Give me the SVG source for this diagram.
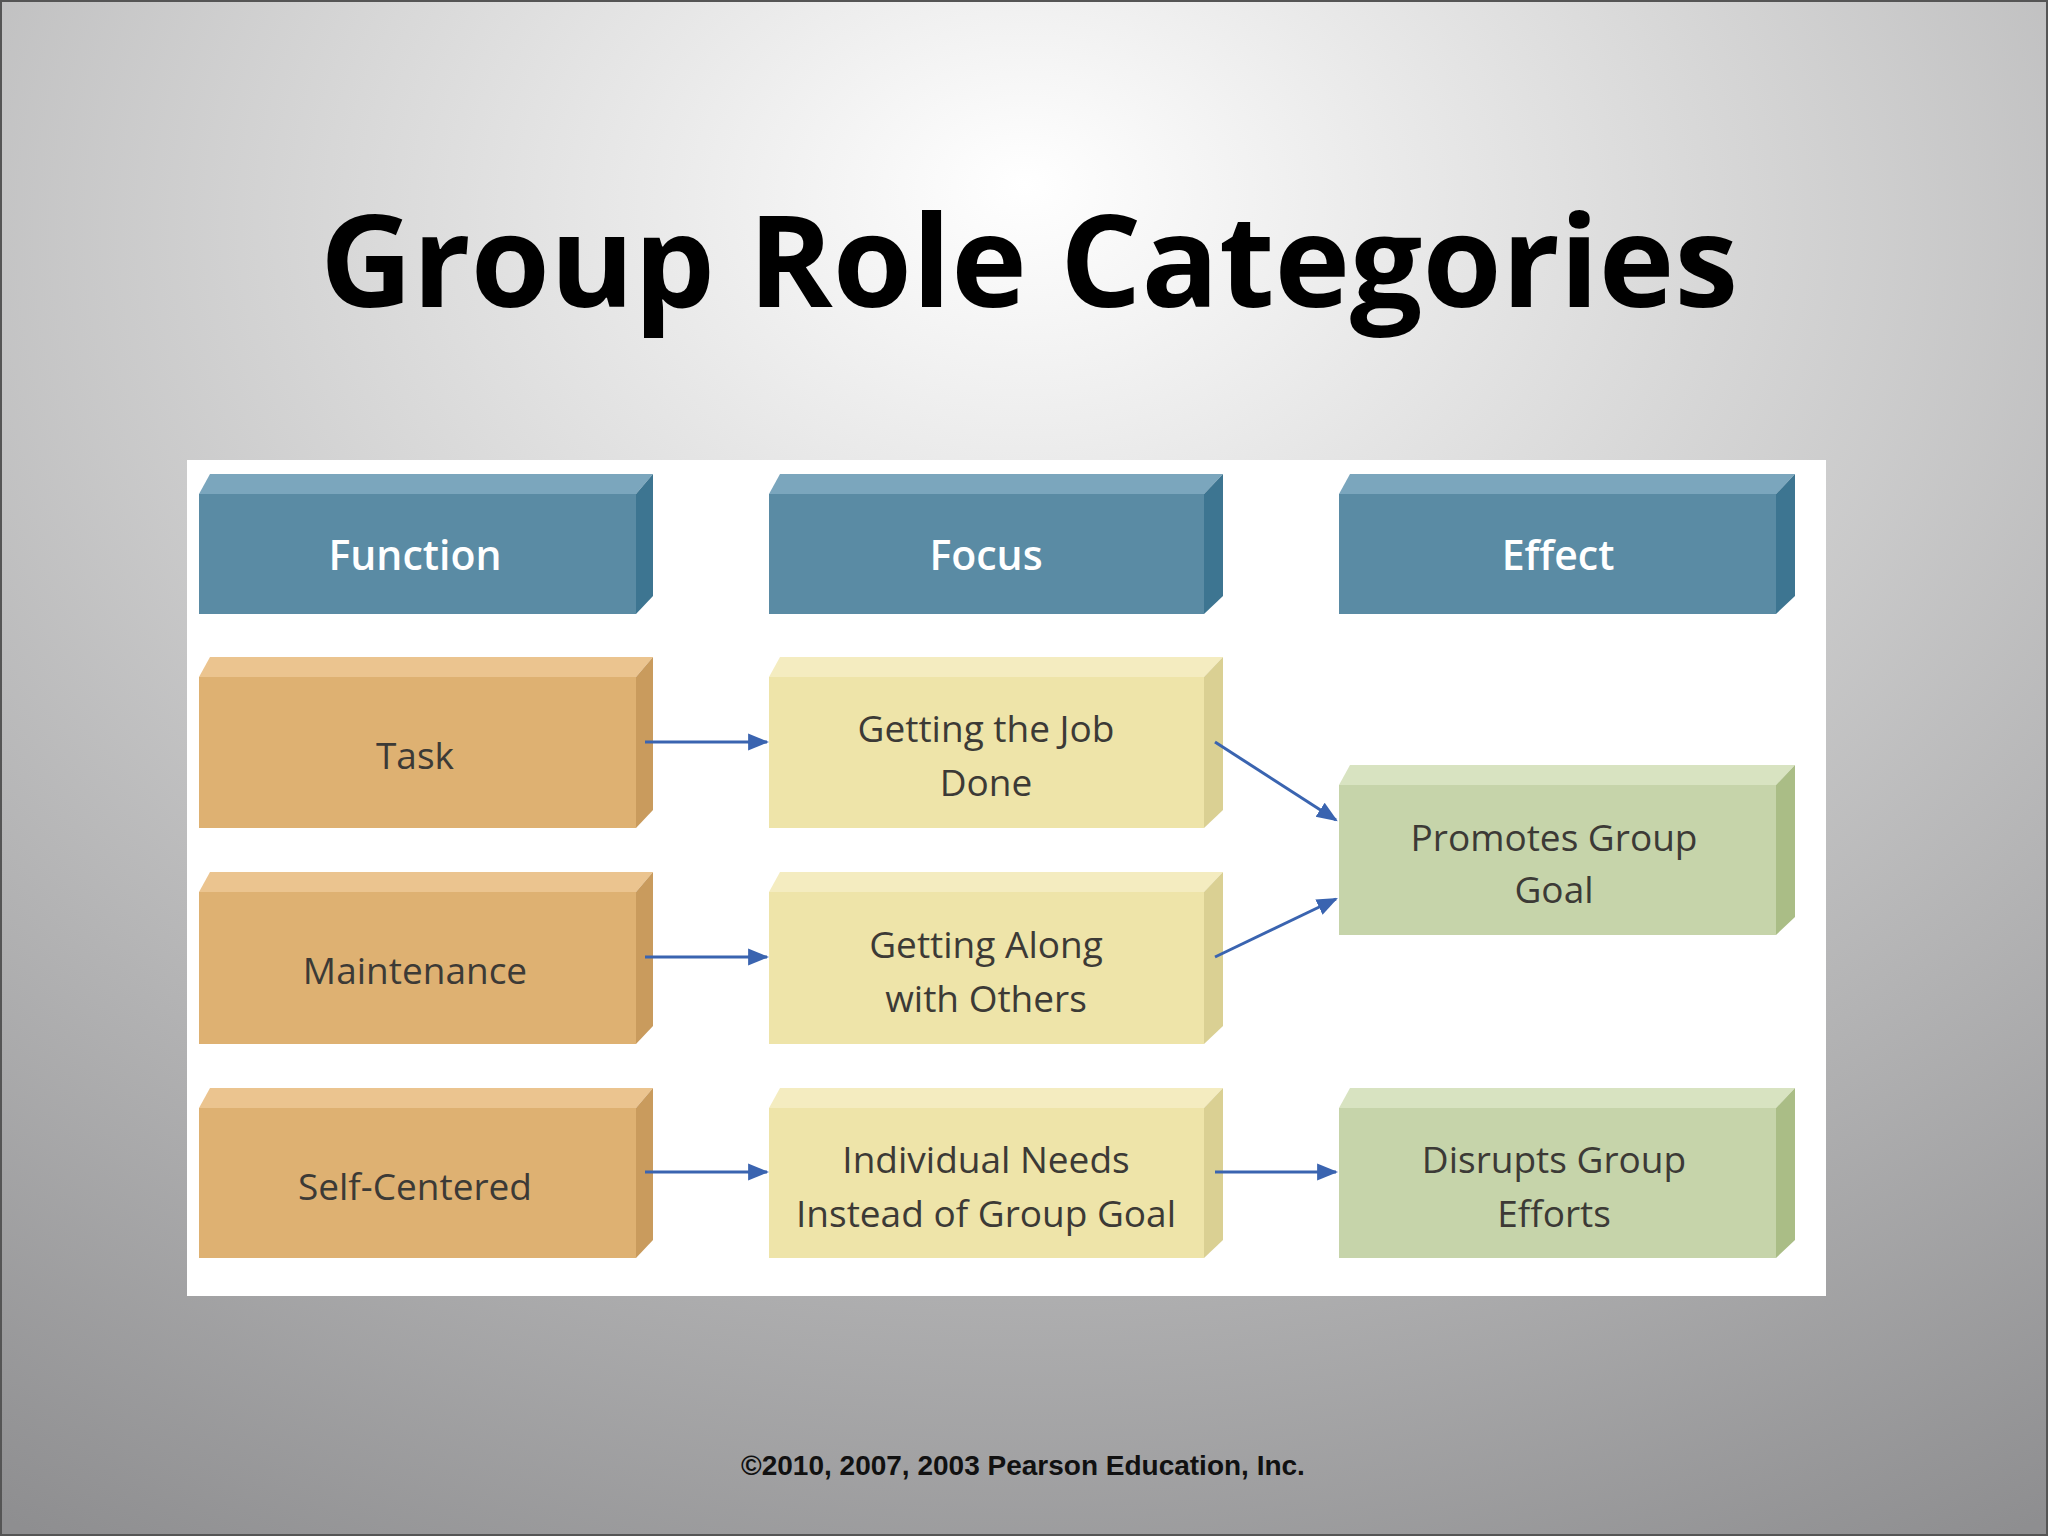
<svg xmlns="http://www.w3.org/2000/svg" width="2048" height="1536" viewBox="0 0 2048 1536">
<defs>
<radialGradient id="bg" cx="0.5" cy="0.18" r="0.95" fx="0.5" fy="0.12">
<stop offset="0" stop-color="#ffffff"/><stop offset="0.35" stop-color="#d8d8d8"/><stop offset="1" stop-color="#8e8e90"/>
</radialGradient>
<marker id="ah" viewBox="0 0 10 10" refX="9" refY="5" markerWidth="7" markerHeight="7" orient="auto" markerUnits="strokeWidth"><path d="M0,1 L10,5 L0,9 z" fill="#3a64b0"/></marker>
</defs>
<style>
.t{font-family:"Open Sans","Liberation Sans",sans-serif;font-size:37px;fill:#3c3a36;text-anchor:middle;dominant-baseline:central}
.h{font-family:"Open Sans","Liberation Sans",sans-serif;font-size:41px;font-weight:600;fill:#ffffff;text-anchor:middle;dominant-baseline:central}
.c line{stroke:#3a64b0;stroke-width:3;marker-end:url(#ah)}
.hf{fill:#5a8ba4}.ht{fill:#7ba6bd}.hr{fill:#3d7591}
.of{fill:#deb172}.ot{fill:#ebc48f}.or{fill:#c99b5d}
.yf{fill:#eee4a9}.yt{fill:#f4ecc0}.yr{fill:#dad093}
.gf{fill:#c6d4aa}.gt{fill:#d8e3c1}.gr{fill:#aabd86}
</style>
<rect width="2048" height="1536" fill="url(#bg)"/>
<rect x="1" y="1" width="2046" height="1534" fill="none" stroke="#555" stroke-width="2"/>
<text x="1029" y="307" font-family="Open Sans, Liberation Sans, sans-serif" font-weight="bold" font-size="128" text-anchor="middle" fill="#000">Group Role Categories</text>
<rect x="187" y="460" width="1639" height="836" fill="#ffffff"/>

<g id="h1"><polygon class="ht" points="199,494 210,474 653,474 636,494"/><polygon class="hr" points="636,494 653,474 653,596 636,614"/><rect class="hf" x="199" y="494" width="437" height="120"/><text class="h" x="415" y="554">Function</text></g>
<g id="h2"><polygon class="ht" points="769,494 780,474 1223,474 1204,494"/><polygon class="hr" points="1204,494 1223,474 1223,596 1204,614"/><rect class="hf" x="769" y="494" width="435" height="120"/><text class="h" x="986" y="554">Focus</text></g>
<g id="h3"><polygon class="ht" points="1339,494 1350,474 1795,474 1776,494"/><polygon class="hr" points="1776,494 1795,474 1795,596 1776,614"/><rect class="hf" x="1339" y="494" width="437" height="120"/><text class="h" x="1558" y="554">Effect</text></g>

<g id="task"><polygon class="ot" points="199,677 210,657 653,657 636,677"/><polygon class="or" points="636,677 653,657 653,810 636,828"/><rect class="of" x="199" y="677" width="437" height="151"/><text class="t" x="415" y="754">Task</text></g>
<g id="maint"><polygon class="ot" points="199,892 210,872 653,872 636,892"/><polygon class="or" points="636,892 653,872 653,1026 636,1044"/><rect class="of" x="199" y="892" width="437" height="152"/><text class="t" x="415" y="969">Maintenance</text></g>
<g id="self"><polygon class="ot" points="199,1108 210,1088 653,1088 636,1108"/><polygon class="or" points="636,1108 653,1088 653,1240 636,1258"/><rect class="of" x="199" y="1108" width="437" height="150"/><text class="t" x="415" y="1185">Self-Centered</text></g>

<g id="job"><polygon class="yt" points="769,677 780,657 1223,657 1204,677"/><polygon class="yr" points="1204,677 1223,657 1223,810 1204,828"/><rect class="yf" x="769" y="677" width="435" height="151"/><text class="t" x="986" y="727">Getting the Job</text><text class="t" x="986" y="781">Done</text></g>
<g id="along"><polygon class="yt" points="769,892 780,872 1223,872 1204,892"/><polygon class="yr" points="1204,892 1223,872 1223,1026 1204,1044"/><rect class="yf" x="769" y="892" width="435" height="152"/><text class="t" x="986" y="943">Getting Along</text><text class="t" x="986" y="997">with Others</text></g>
<g id="indiv"><polygon class="yt" points="769,1108 780,1088 1223,1088 1204,1108"/><polygon class="yr" points="1204,1108 1223,1088 1223,1240 1204,1258"/><rect class="yf" x="769" y="1108" width="435" height="150"/><text class="t" x="986" y="1158">Individual Needs</text><text class="t" x="986" y="1212">Instead of Group Goal</text></g>

<g id="promotes"><polygon class="gt" points="1339,785 1350,765 1795,765 1776,785"/><polygon class="gr" points="1776,785 1795,765 1795,917 1776,935"/><rect class="gf" x="1339" y="785" width="437" height="150"/><text class="t" x="1554" y="836">Promotes Group</text><text class="t" x="1554" y="888">Goal</text></g>
<g id="disrupts"><polygon class="gt" points="1339,1108 1350,1088 1795,1088 1776,1108"/><polygon class="gr" points="1776,1108 1795,1088 1795,1240 1776,1258"/><rect class="gf" x="1339" y="1108" width="437" height="150"/><text class="t" x="1554" y="1158">Disrupts Group</text><text class="t" x="1554" y="1212">Efforts</text></g>

<g id="connectors" class="c">
<line x1="645" y1="742" x2="767" y2="742"/>
<line x1="645" y1="957" x2="767" y2="957"/>
<line x1="645" y1="1172" x2="767" y2="1172"/>
<line x1="1215" y1="1172" x2="1336" y2="1172"/>
<line x1="1215" y1="742" x2="1336" y2="820"/>
<line x1="1215" y1="957" x2="1336" y2="899"/>
</g>
<text x="1023" y="1465" font-family="Liberation Sans, Arial, sans-serif" font-weight="bold" font-size="28" text-anchor="middle" dominant-baseline="central" fill="#111">©2010, 2007, 2003 Pearson Education, Inc.</text>
</svg>
